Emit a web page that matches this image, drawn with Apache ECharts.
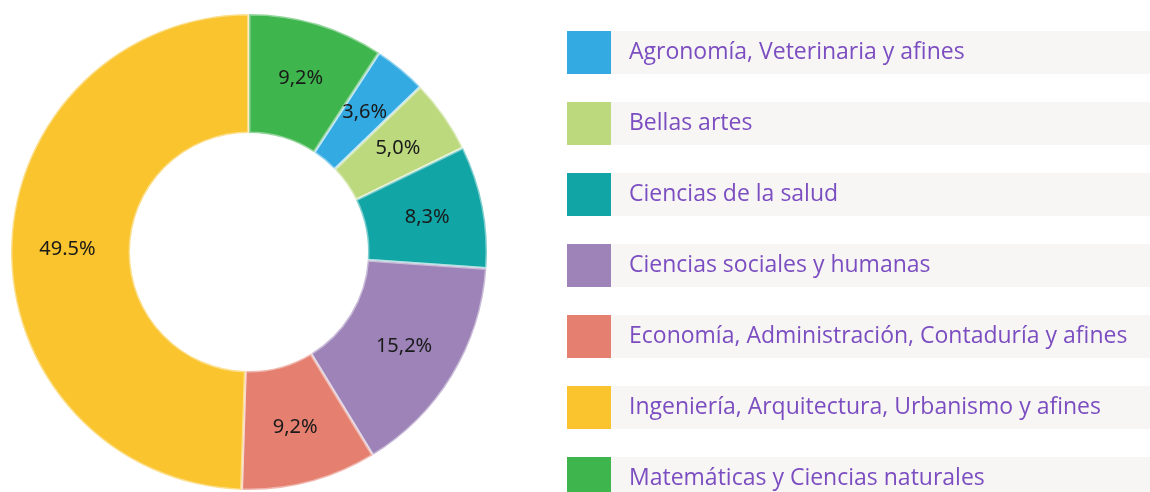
<!DOCTYPE html>
<html>
<head>
<meta charset="utf-8">
<script src="https://cdn.jsdelivr.net/npm/echarts@6/dist/echarts.min.js"></script>
<style>html,body{margin:0;padding:0;background:#fff;}#c{width:1150px;height:492px;}</style>
</head>
<body>
<div id="c"></div>
<script>
const categories = [
  'Agronomía, Veterinaria y afines',
  'Bellas artes',
  'Ciencias de la salud',
  'Ciencias sociales y humanas',
  'Economía, Administración, Contaduría y afines',
  'Ingeniería, Arquitectura, Urbanismo y afines',
  'Matemáticas y Ciencias naturales'
];
const values = [3.6, 5.0, 8.3, 15.2, 9.2, 49.5, 9.2];
const valueLabels = ['3,6%', '5,0%', '8,3%', '15,2%', '9,2%', '49.5%', '9,2%'];
const colors = ['#33abe2', '#bcd97e', '#12a5a6', '#9d83b8', '#e57f70', '#f9c42d', '#3fb54d'];

const total = values.reduce((a, b) => a + b, 0);
const startAngle = 90 - values[values.length - 1] / total * 360;

const rich = {
  t: {
    width: 521, height: 43, lineHeight: 43, padding: [0, 0, 0, 18],
    backgroundColor: '#f7f6f5', color: '#7b4dc0', fontSize: 23,
    fontFamily: '"Open Sans", "Noto Sans", sans-serif'
  }
};
colors.forEach((c, i) => {
  rich['c' + i] = { width: 44, height: 43, backgroundColor: c, fontSize: 1 };
});

const chart = echarts.init(document.getElementById('c'), null, { renderer: 'canvas' });
chart.setOption({
  animation: false,
  color: colors,
  legend: {
    orient: 'vertical',
    left: 562,
    top: 31,
    height: 520,
    padding: 0,
    icon: 'none',
    itemWidth: 0,
    itemHeight: 43,
    itemGap: 28,
    selectedMode: false,
    data: categories,
    formatter: function (name) {
      const i = categories.indexOf(name);
      return '{c' + i + '| }{t|' + name + '}';
    },
    textStyle: { rich: rich }
  },
  series: [{
    type: 'pie',
    center: [249, 252],
    radius: [119, 238],
    startAngle: startAngle,
    clockwise: true,
    avoidLabelOverlap: false,
    itemStyle: { borderColor: 'rgba(255,255,255,0.45)', borderWidth: 3 },
    label: {
      show: true,
      position: 'inside',
      color: '#1a1a1a',
      fontSize: 20,
      fontFamily: '"Noto Sans", sans-serif',
      formatter: function (p) { return valueLabels[p.dataIndex]; }
    },
    labelLine: { show: false },
    emphasis: { disabled: true },
    data: categories.map((n, i) => ({ name: n, value: values[i] }))
  }]
});
</script>
</body>
</html>
